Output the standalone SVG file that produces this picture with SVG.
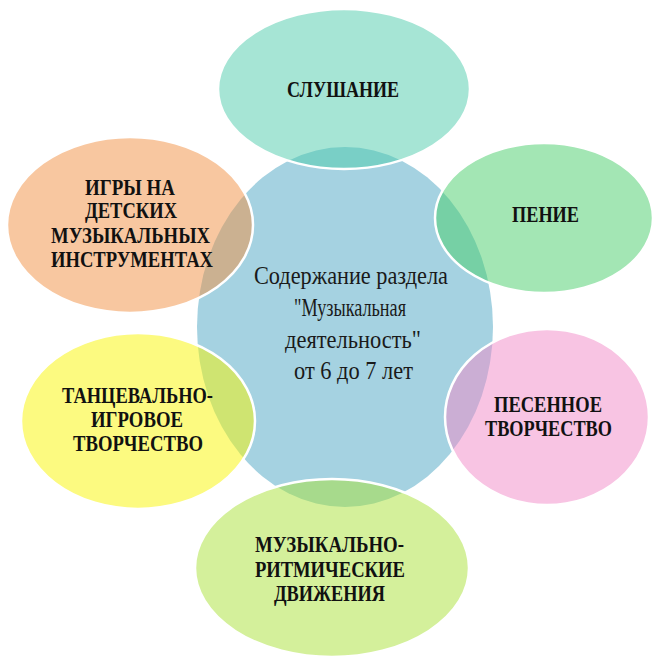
<svg xmlns="http://www.w3.org/2000/svg" width="653" height="659" viewBox="0 0 653 659">
<style>
.bg{fill:#ffffff}
.center{fill:#a5d2e1}
.petal{fill-opacity:0.5;stroke:#ffffff;stroke-width:2.5}
.lbl{font-family:"Liberation Serif","DejaVu Serif",serif;font-weight:bold;font-size:23px;fill:#111111}
.ctr{font-family:"Liberation Serif","DejaVu Serif",serif;font-size:26px;fill:#1a1a1a}
</style>
<rect class="bg" x="0" y="0" width="653" height="659"/>
<g id="center-node">
  <ellipse class="center" cx="345" cy="327" rx="148" ry="180"/>
</g>
<g id="node-listening">
  <ellipse class="petal" cx="344" cy="89" rx="126" ry="80" fill="#4dcbab"/>
  <text class="lbl" x="287" y="97" textLength="112" lengthAdjust="spacingAndGlyphs">СЛУШАНИЕ</text>
</g>
<g id="node-singing">
  <ellipse class="petal" cx="544" cy="218" rx="109" ry="75" fill="#47cd69"/>
  <text class="lbl" x="512" y="222" textLength="67" lengthAdjust="spacingAndGlyphs">ПЕНИЕ</text>
</g>
<g id="node-song-creativity">
  <ellipse class="petal" cx="547" cy="417" rx="102" ry="88" fill="#f189c7"/>
  <text class="lbl" x="494" y="412" textLength="108" lengthAdjust="spacingAndGlyphs">ПЕСЕННОЕ</text>
  <text class="lbl" x="485" y="436" textLength="127" lengthAdjust="spacingAndGlyphs">ТВОРЧЕСТВО</text>
</g>
<g id="node-rhythmic">
  <ellipse class="petal" cx="332" cy="568" rx="137" ry="89" fill="#a9e137"/>
  <text class="lbl" x="255" y="552" textLength="149" lengthAdjust="spacingAndGlyphs">МУЗЫКАЛЬНО-</text>
  <text class="lbl" x="255" y="577" textLength="150" lengthAdjust="spacingAndGlyphs">РИТМИЧЕСКИЕ</text>
  <text class="lbl" x="274" y="601" textLength="111" lengthAdjust="spacingAndGlyphs">ДВИЖЕНИЯ</text>
</g>
<g id="node-dance">
  <ellipse class="petal" cx="138" cy="421" rx="117" ry="88" fill="#f9f501"/>
  <text class="lbl" x="62" y="403" textLength="151" lengthAdjust="spacingAndGlyphs">ТАНЦЕВАЛЬНО-</text>
  <text class="lbl" x="91" y="427" textLength="92" lengthAdjust="spacingAndGlyphs">ИГРОВОЕ</text>
  <text class="lbl" x="73" y="451" textLength="130" lengthAdjust="spacingAndGlyphs">ТВОРЧЕСТВО</text>
</g>
<g id="node-instruments">
  <ellipse class="petal" cx="130" cy="225" rx="123" ry="88" fill="#f18f41"/>
  <text class="lbl" x="85" y="195" textLength="90" lengthAdjust="spacingAndGlyphs">ИГРЫ НА</text>
  <text class="lbl" x="85" y="218" textLength="92" lengthAdjust="spacingAndGlyphs">ДЕТСКИХ</text>
  <text class="lbl" x="51" y="243" textLength="159" lengthAdjust="spacingAndGlyphs">МУЗЫКАЛЬНЫХ</text>
  <text class="lbl" x="51" y="267" textLength="162" lengthAdjust="spacingAndGlyphs">ИНСТРУМЕНТАХ</text>
</g>
<g id="center-label">
  <text class="ctr" x="254" y="284" textLength="194" lengthAdjust="spacingAndGlyphs">Содержание раздела</text>
  <text class="ctr" x="294" y="316" textLength="112" lengthAdjust="spacingAndGlyphs">"Музыкальная</text>
  <text class="ctr" x="285" y="348" textLength="136" lengthAdjust="spacingAndGlyphs">деятельность"</text>
  <text class="ctr" x="294" y="379" textLength="119" lengthAdjust="spacingAndGlyphs">от 6 до 7 лет</text>
</g>
</svg>
